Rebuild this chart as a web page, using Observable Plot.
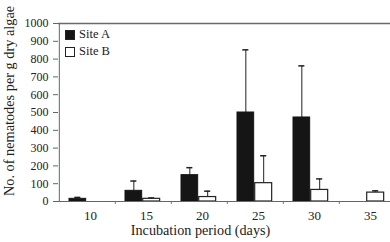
<!DOCTYPE html>
<html>
<head>
<meta charset="utf-8">
<script src="https://cdn.jsdelivr.net/npm/d3@7"></script>
<script src="https://cdn.jsdelivr.net/npm/@observablehq/plot@0.6"></script>
<style>
  html, body { margin: 0; padding: 0; background: #fff; }
  #wrap { position: relative; width: 390px; height: 242px; overflow: hidden; font-family: "Liberation Serif", serif; }
  #wrap svg g[aria-label="y-axis tick label"] { font-size: 12px; }
  #wrap svg g[aria-label="x-axis tick label"] { font-size: 13px; }
  #legend { position: absolute; left: 65px; top: 26px; font-size: 12.5px; color: #222; line-height: 17px; }
  #legend .row { display: flex; align-items: center; }
  #legend .sw { width: 8px; height: 8px; border: 1px solid #222; margin-right: 4px; box-sizing: content-box; }
</style>
</head>
<body>
<div id="wrap"><div id="legend"></div></div>
<script>
const days = ["10", "15", "20", "25", "30", "35"];
const siteA = [15, 60, 148, 500, 472, null];
const siteAErr = [8, 55, 42, 352, 290, null];
const siteB = [null, 15, 25, 103, 65, 50];
const siteBErr = [null, 5, 33, 154, 62, 10];
const sites = ["Site A", "Site B"];
const siteFill = ["#151515", "#ffffff"];
const yTicks = [0, 100, 200, 300, 400, 500, 600, 700, 800, 900, 1000];
const xLabel = "Incubation period (days)";
const yLabel = "No. of nematodes per g dry algae";

const W = 390, H = 242;
const mL = 58, mR = -6, mT = 23, mB = 41;
const bw = (W - mR - mL) / days.length;

const rowsA = days.map((d, i) => ({day: d, value: siteA[i], err: siteAErr[i]})).filter(r => r.value != null);
const rowsB = days.map((d, i) => ({day: d, value: siteB[i], err: siteBErr[i]})).filter(r => r.value != null);

// bar geometry inside each band (pixels)
const aL = 10, aR = bw - 27, bL = 27.7, bR = bw - 45;
const aC = (aL + (bw - aR)) / 2, bC = (bL + (bw - bR)) / 2;
const cap = 3.2;

const chart = Plot.plot({
  width: W, height: H,
  marginLeft: mL, marginRight: mR, marginTop: mT, marginBottom: mB,
  style: {fontFamily: "'Liberation Serif', serif", fontSize: "12px", color: "#222", background: "transparent"},
  x: {type: "band", domain: days, padding: 0, axis: null},
  y: {domain: [0, 1000], axis: null},
  marks: [
    Plot.ruleY([yTicks[yTicks.length - 1]], {stroke: "#6a6a6a", strokeWidth: 1.6}),
    Plot.ruleX([days[0]], {x: d => d, dx: -bw / 2, y1: yTicks[0], y2: yTicks[yTicks.length - 1], stroke: "#666"}),
    Plot.axisY({ticks: yTicks, tickFormat: d => String(d), tickSize: 5, tickPadding: 5, fontSize: 12, stroke: "#666", label: null, fill: "#222"}),
    Plot.axisX({ticks: days.slice(1), tickSize: 3, tickFormat: () => "", dx: -bw / 2, stroke: "#777", label: null}),
    Plot.axisX({tickSize: 0, tickPadding: 9, dx: 3, fontSize: 13, label: null, fill: "#222"}),
    Plot.ruleX(rowsA, {x: "day", y1: "value", y2: d => d.value + d.err, dx: aC - bw / 2, stroke: "#222"}),
    Plot.tickY(rowsA, {x: "day", y: d => d.value + d.err, insetLeft: aC - cap, insetRight: bw - aC - cap, stroke: "#222", strokeWidth: 1.5}),
    Plot.ruleX(rowsB, {x: "day", y1: "value", y2: d => d.value + d.err, dx: bC - bw / 2, stroke: "#222"}),
    Plot.tickY(rowsB, {x: "day", y: d => d.value + d.err, insetLeft: bC - cap, insetRight: bw - bC - cap, stroke: "#222", strokeWidth: 1.5}),
    Plot.barY(rowsA, {x: "day", y: "value", fill: siteFill[0], stroke: "#151515", insetLeft: aL, insetRight: aR}),
    Plot.barY(rowsB, {x: "day", y: "value", fill: siteFill[1], stroke: "#222", strokeWidth: 1.2, insetLeft: bL, insetRight: bR}),
    Plot.ruleY([yTicks[0]], {stroke: "#666"}),
    Plot.text([xLabel], {frameAnchor: "bottom", textAnchor: "middle", dx: -27, dy: 33, fontSize: 14.2, fill: "#222"}),
    Plot.text([yLabel], {frameAnchor: "left", textAnchor: "middle", dx: -49, dy: -11.5, rotate: -90, fontSize: 14.3, fill: "#222"})
  ]
});
document.getElementById("wrap").prepend(chart);

const legend = document.getElementById("legend");
sites.forEach((s, i) => {
  const row = document.createElement("div");
  row.className = "row";
  const sw = document.createElement("span");
  sw.className = "sw";
  sw.style.background = siteFill[i];
  const t = document.createElement("span");
  t.textContent = s;
  row.append(sw, t);
  legend.append(row);
});
</script>
</body>
</html>
